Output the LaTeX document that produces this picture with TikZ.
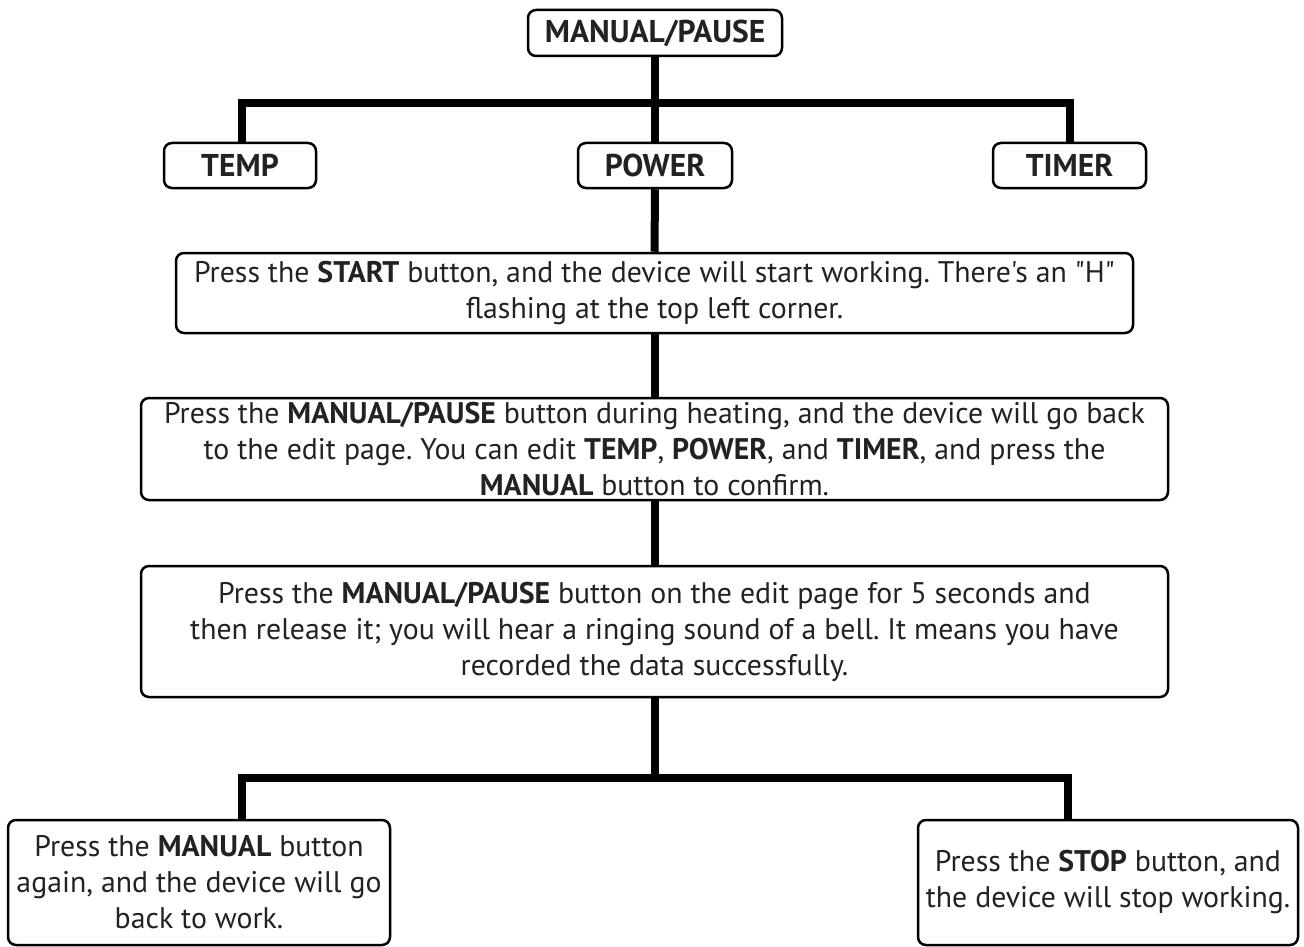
\documentclass[tikz,border=0pt]{standalone}
\usepackage{fontspec}
\setmainfont{PT Sans}[Ligatures=TeXOff]
\frenchspacing
\begin{document}
\begin{tikzpicture}[x=1pt,y=-1pt,
  box/.style={draw=black,line width=2.5pt,rounded corners=8pt,fill=white,align=center,inner sep=0pt,text=txt,font=\fontsize{29.8}{36}\selectfont},
  head/.style={box,font=\fontsize{31.5}{36}\selectfont\bfseries,minimum height=45pt},
  conn/.style={line width=8pt,line join=miter}]
\definecolor{txt}{HTML}{222222}
\path[use as bounding box] (0,0) rectangle (1304,947);
\node[head,minimum width=254pt,minimum height=46pt] (top) at (655,33) {MANUAL/PAUSE};
\node[head,minimum width=152pt] (temp) at (240,165.5) {TEMP};
\node[head,minimum width=154pt] (power) at (655,165.5) {POWER};
\node[head,minimum width=153pt] (timer) at (1069.5,165.5) {TIMER};
\node[box,minimum width=957pt,minimum height=80pt] (start) at (654.5,293) {Press the \textbf{START} button, and the device will start working. There's an "H"\\ flashing at the top left corner.};
\node[box,minimum width=1027pt,minimum height=102pt] (edit) at (654.5,449) {Press the \textbf{MANUAL/PAUSE} button during heating, and the device will go back\\ to the edit page. You can edit \textbf{TEMP}, \textbf{POWER}, and \textbf{TIMER}, and press the\\ \textbf{MANUAL} button to confirm.};
\node[box,minimum width=1027pt,minimum height=131pt] (rec) at (654.5,631.5) {Press the \textbf{MANUAL/PAUSE} button on the edit page for 5 seconds and\\ then release it; you will hear a ringing sound of a bell. It means you have\\ recorded the data successfully.};
\node[box,minimum width=382pt,minimum height=125pt] (again) at (199,882.5) {Press the \textbf{MANUAL} button\\ again, and the device will go\\ back to work.};
\node[box,minimum width=380pt,minimum height=125pt] (stop) at (1108,882.5) {Press the \textbf{STOP} button, and\\ the device will stop working.};
\coordinate (b1) at (0,103);
\coordinate (b2) at (0,778);
\draw[conn] (top.south) -- (power.north);
\draw[conn] ([xshift=2pt]temp.north) |- (b1 -| timer.north) -- (timer.north);
\draw[conn] (power.south) -- (start.north);
\draw[conn] (start.south) -- (edit.north);
\draw[conn] (edit.south) -- (rec.north);
\draw[conn] (rec.south) -- (rec.south |- b2);
\draw[conn] (again.north -| 242,0) |- (b2 -| 1068,0) -- (stop.north -| 1068,0);
\end{tikzpicture}
\end{document}
